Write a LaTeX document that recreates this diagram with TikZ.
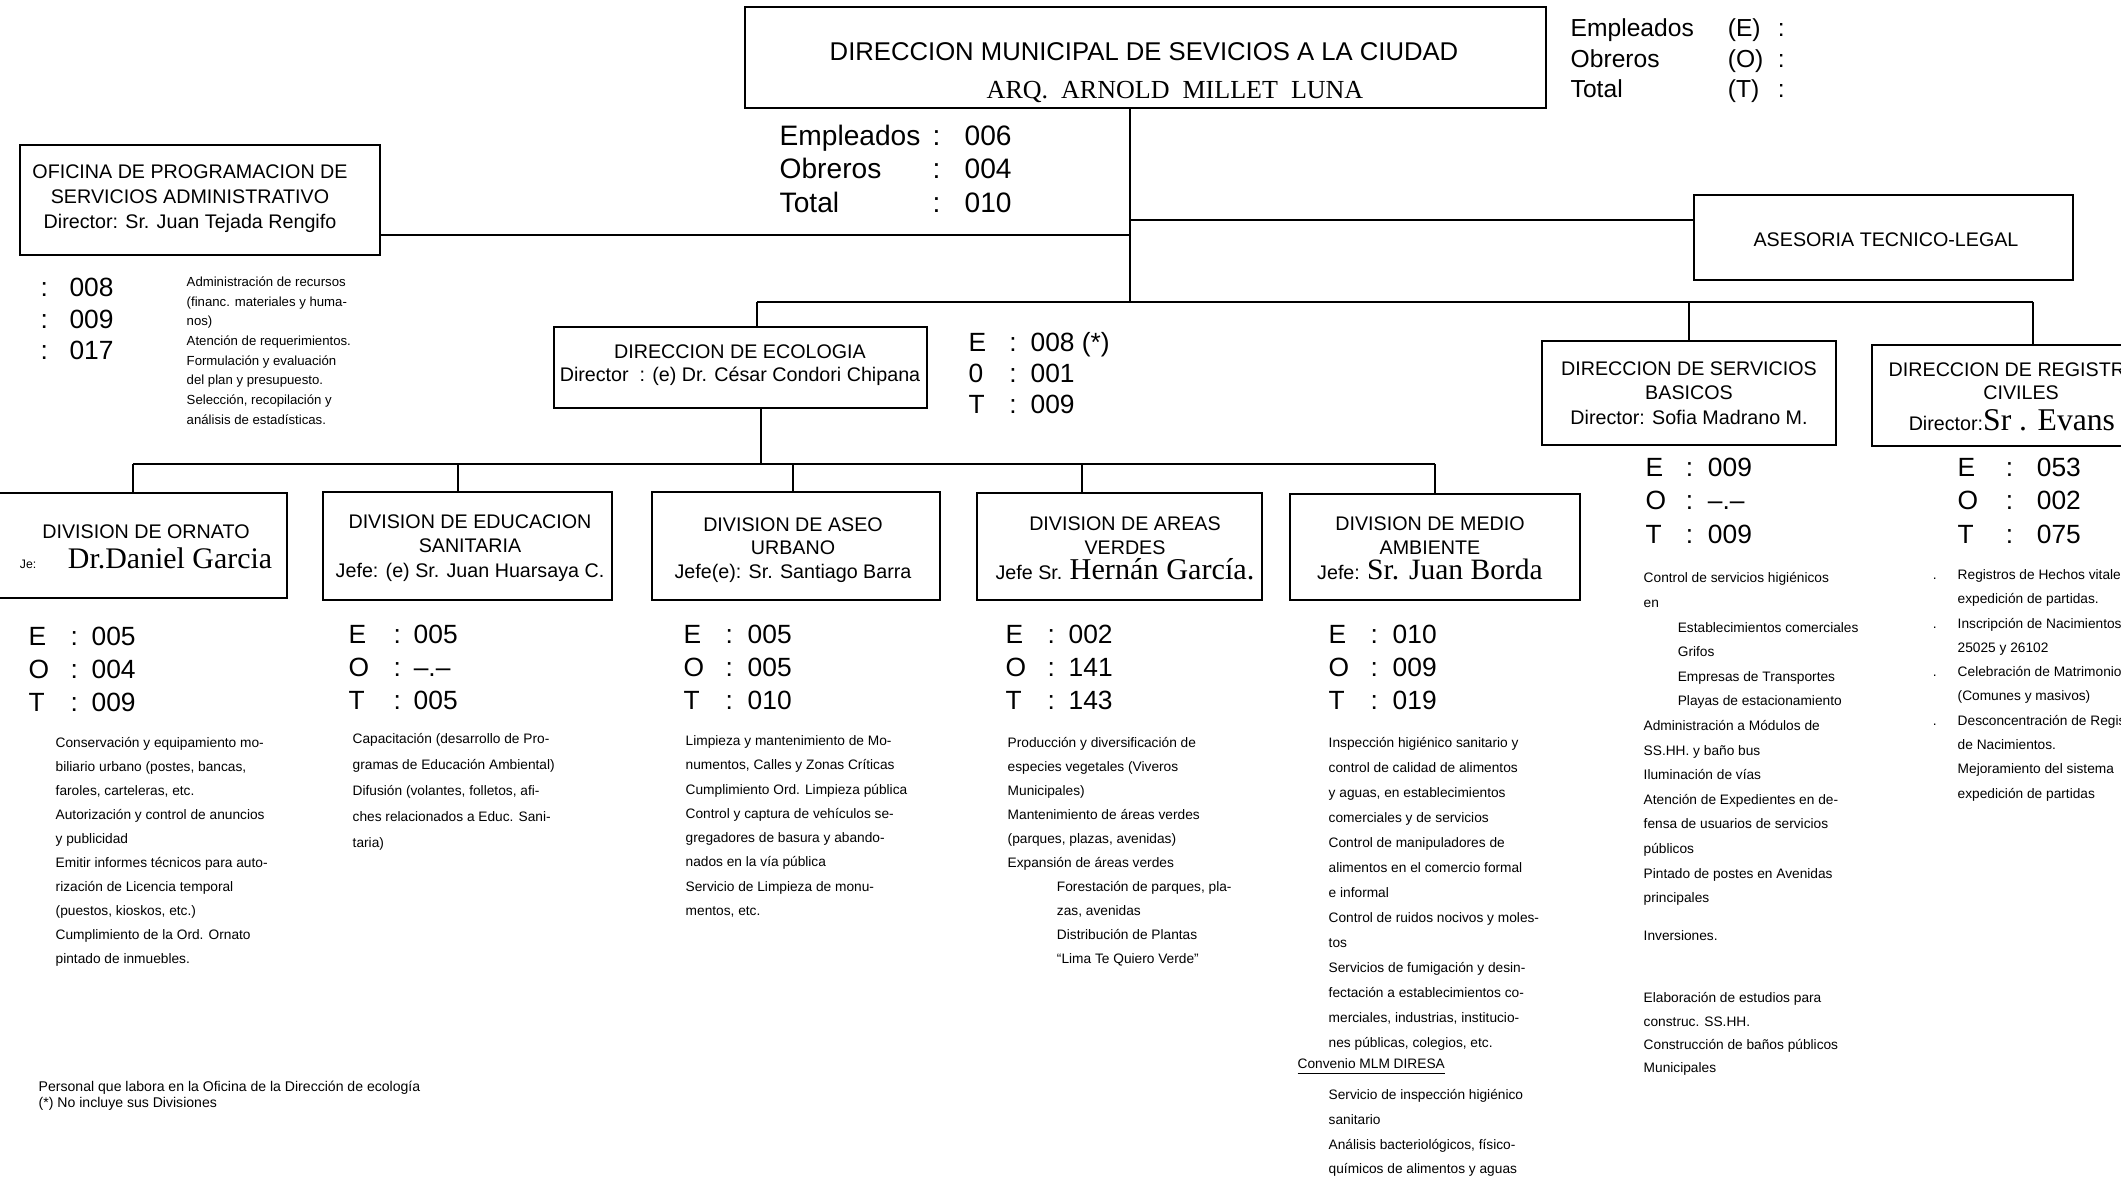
\documentclass[tikz,border=0pt]{standalone}
\usepackage{fontspec}
\setmainfont{Liberation Sans}
\newfontfamily\serifnm{Liberation Serif}
\usetikzlibrary{fit}
\newcommand{\eotbl}[5]{\begin{tabular}{@{}p{#1}@{}p{#2}@{}l@{}}E&:&#3\\O&:&#4\\T&:&#5\end{tabular}}
\newcommand{\bul}{\llap{.\hspace{6pt}}}
\begin{document}
\begin{tikzpicture}[x=0.01cm,y=-0.01cm,
  boxst/.style={draw, line width=0.6pt, inner sep=0pt},
  lnk/.style={line width=0.6pt},
  ttl/.style={font=\fontsize{5.6}{7}\selectfont, align=center, inner sep=0pt},
  stat/.style={font=\fontsize{7.5}{9.4}\selectfont, anchor=west, inner sep=0pt},
  desc/.style={font=\fontsize{3.9}{6.8}\selectfont, align=left, anchor=north west, inner sep=0pt}]
\useasboundingbox (0,0) rectangle (2121,1177);
\fill[white] (0,0) rectangle (2121,1177);
\clip (0,0) rectangle (2121,1177);

% ---------- boxes ----------
\node[boxst, fit={(745,7) (1546,108)}] (main) {};
\node[boxst, fit={(20,145) (380,255)}] (ofi) {};
\node[boxst, fit={(1694,195) (2073,280)}] (ases) {};
\node[boxst, fit={(554,327) (927,408)}] (eco) {};
\node[boxst, fit={(1542,341) (1836,445)}] (sb) {};
\node[boxst, fit={(1872,345) (2160,446)}] (reg) {};
\node[boxst, fit={(-10,493) (287,598)}] (orn) {};
\node[boxst, fit={(323,492) (612,600)}] (edu) {};
\node[boxst, fit={(652,492) (940,600)}] (ase) {};
\node[boxst, fit={(977,493) (1262,600)}] (are) {};
\node[boxst, fit={(1290,494) (1580,600)}] (med) {};

% ---------- connectors ----------
\coordinate (jL) at (1130,235);
\coordinate (jR) at (1130,220);
\coordinate (jB) at (1130,302);
\draw[lnk] (main.south -| jB) -- (jB);
\draw[lnk] (ofi.east |- jL) -- (jL);
\draw[lnk] (jR) -- (ases.west |- jR);
\coordinate (ubE) at (757,302);
\coordinate (ubR) at (2033,302);
\draw[lnk] (ubE) -- (ubR);
\draw[lnk] (ubE) -- (ubE |- eco.north);
\draw[lnk] (sb.north |- ubE) -- (sb.north);
\draw[lnk] (ubR) -- (ubR |- reg.north);
\coordinate (lb1) at (133,464);
\coordinate (lb2) at (458,464);
\coordinate (lbE) at (761,464);
\coordinate (lb3) at (793,464);
\coordinate (lb4) at (1082,464);
\coordinate (lb5) at (1435,464);
\draw[lnk] (lb1) -- (lb5);
\draw[lnk] (lbE |- eco.south) -- (lbE);
\draw[lnk] (lb1) -- (lb1 |- orn.north);
\draw[lnk] (lb2) -- (lb2 |- edu.north);
\draw[lnk] (lb3) -- (lb3 |- ase.north);
\draw[lnk] (lb4) -- (lb4 |- are.north);
\draw[lnk] (lb5) -- (lb5 |- med.north);

% ---------- main ----------
\node[inner sep=0pt, font=\fontsize{7.3}{8}\selectfont] (mainT) at (1144,52) {DIRECCION MUNICIPAL DE SEVICIOS A LA CIUDAD};
\node[inner sep=0pt, font=\serifnm\fontsize{7.4}{8}\selectfont] (mainN) at (1175,92) {ARQ.~~ARNOLD~~MILLET~~LUNA};
\node[stat, font=\fontsize{8}{9.5}\selectfont] (mainS) at (779,172) {\begin{tabular}{@{}p{43.5pt}@{}p{9.1pt}@{}l@{}}Empleados&:&006\\Obreros&:&004\\Total&:&010\end{tabular}};
\node[stat, font=\fontsize{7}{8.7}\selectfont] (leg) at (1570,61) {\begin{tabular}{@{}p{44.7pt}@{}p{14.2pt}@{}l@{}}Empleados&(E)&:\\Obreros&(O)&:\\Total&(T)&:\end{tabular}};

% ---------- oficina ----------
\node[ttl, font=\fontsize{5.6}{7.1}\selectfont] (ofiT) at (190,199) {OFICINA DE PROGRAMACION DE\\SERVICIOS ADMINISTRATIVO\\Director: Sr. Juan Tejada Rengifo};
\node[stat, font=\fontsize{7.5}{9}\selectfont] (ofiS) at (40,322) {\begin{tabular}{@{}p{8.2pt}@{}l@{}}:&008\\:&009\\:&017\end{tabular}};
\node[desc, font=\fontsize{3.75}{5.6}\selectfont] (ofiD) at (186,276) {Administración de recursos\\(financ. materiales y huma-\\nos)\\Atención de requerimientos.\\Formulación y evaluación\\del plan y presupuesto.\\Selección, recopilación y\\análisis de estadísticas.};

% ---------- asesoria ----------
\node[ttl] (asesT) at (1886,240) {ASESORIA TECNICO-LEGAL};

% ---------- ecologia ----------
\node[ttl, font=\fontsize{5.6}{6.4}\selectfont] (ecoT) at (740,365) {DIRECCION DE ECOLOGIA\\Director\ \ : (e) Dr. César Condori Chipana};
\node[stat, font=\fontsize{7.5}{8.8}\selectfont] (ecoS) at (968,376) {\begin{tabular}{@{}p{11.6pt}@{}p{6.0pt}@{}l@{}}E&:&008 (*)\\0&:&001\\T&:&009\end{tabular}};

% ---------- servicios basicos ----------
\node[ttl] (sbT) at (1689,393) {DIRECCION DE SERVICIOS\\BASICOS\\Director: Sofia Madrano M.};
\node[stat, font=\fontsize{7.5}{9.5}\selectfont] (sbS) at (1645,503) {\eotbl{11.4pt}{6.3pt}{009}{--.--}{009}};
\node[desc, font=\fontsize{3.9}{7}\selectfont] (sbD1) at (1643,572) {Control de servicios higiénicos\\en\\\hspace*{9.7pt}Establecimientos comerciales\\\hspace*{9.7pt}Grifos\\\hspace*{9.7pt}Empresas de Transportes\\\hspace*{9.7pt}Playas de estacionamiento\\Administración a Módulos de\\SS.HH. y baño bus\\Iluminación de vías\\Atención de Expedientes en de-\\fensa de usuarios de servicios\\públicos\\Pintado de postes en Avenidas\\principales};
\node[desc, anchor=west, font=\fontsize{3.9}{7}\selectfont] (sbD2) at (1643,936) {Inversiones.};
\node[desc, font=\fontsize{3.9}{6.6}\selectfont] (sbD3) at (1643,992) {Elaboración de estudios para\\construc. SS.HH.\\Construcción de baños públicos\\Municipales};

% ---------- registros ----------
\node[ttl, anchor=west, font=\fontsize{5.6}{6.8}\selectfont] (regT) at (1888,400) {DIRECCION DE REGISTROS\\CIVILES\\[2pt]Director:{\serifnm\fontsize{9}{7}\selectfont Sr . Evans (}};
\node[stat, font=\fontsize{7.5}{9.5}\selectfont] (regS) at (1957,503) {\eotbl{13.7pt}{8.8pt}{053}{002}{075}};
\node[desc, font=\fontsize{3.9}{6.9}\selectfont] (regD) at (1957,569) {\bul Registros de Hechos vitales\\expedición de partidas.\\\bul Inscripción de Nacimientos\\25025 y 26102\\\bul Celebración de Matrimonios\\(Comunes y masivos)\\\bul Desconcentración de Registros\\de Nacimientos.\\Mejoramiento del sistema\\expedición de partidas};

% ---------- ornato ----------
\node[ttl, font=\fontsize{5.6}{8.5}\selectfont] (ornT) at (146,547) {DIVISION DE ORNATO\\{\fontsize{3.5}{4}\selectfont Je:}\hspace{9pt}{\serifnm\fontsize{8.5}{8}\selectfont Dr.Daniel Garcia}};
\node[stat] (ornS) at (28,672) {\eotbl{11.9pt}{6pt}{005}{004}{009}};
\node[desc] (ornD) at (55,737) {Conservación y equipamiento mo-\\biliario urbano (postes, bancas,\\faroles, carteleras, etc.\\Autorización y control de anuncios\\y publicidad\\Emitir informes técnicos para auto-\\rización de Licencia temporal\\(puestos, kioskos, etc.)\\Cumplimiento de la Ord. Ornato\\pintado de inmuebles.};

% ---------- educacion ----------
\node[ttl] (eduT) at (470,548) {DIVISION DE EDUCACION\\SANITARIA\\Jefe: (e) Sr. Juan Huarsaya C.};
\node[stat] (eduS) at (348,670) {\eotbl{12.8pt}{5.7pt}{005}{--.--}{005}};
\node[desc, font=\fontsize{3.9}{7.4}\selectfont] (eduD) at (352,733) {Capacitación (desarrollo de Pro-\\gramas de Educación Ambiental)\\Difusión (volantes, folletos, afi-\\ches relacionados a Educ. Sani-\\taria)};

% ---------- aseo ----------
\node[ttl, font=\fontsize{5.6}{6.6}\selectfont] (aseT) at (793,550) {DIVISION DE ASEO\\URBANO\\Jefe(e): Sr. Santiago Barra};
\node[stat] (aseS) at (683,670) {\eotbl{11.9pt}{6.3pt}{005}{005}{010}};
\node[desc, font=\fontsize{3.9}{6.9}\selectfont] (aseD) at (685,735) {Limpieza y mantenimiento de Mo-\\numentos, Calles y Zonas Críticas\\Cumplimiento Ord. Limpieza pública\\Control y captura de vehículos se-\\gregadores de basura y abando-\\nados en la vía pública\\Servicio de Limpieza de monu-\\mentos, etc.};

% ---------- areas verdes ----------
\node[ttl] (areT) at (1125,548) {DIVISION DE AREAS\\VERDES\\Jefe Sr. {\serifnm\fontsize{8.6}{8}\selectfont Hernán García.}};
\node[stat] (areS) at (1005,670) {\eotbl{11.9pt}{6pt}{002}{141}{143}};
\node[desc] (areD) at (1007,737) {Producción y diversificación de\\especies vegetales (Viveros\\Municipales)\\Mantenimiento de áreas verdes\\(parques, plazas, avenidas)\\Expansión de áreas verdes\\\hspace*{14pt}Forestación de parques, pla-\\\hspace*{14pt}zas, avenidas\\\hspace*{14pt}Distribución de Plantas\\\hspace*{14pt}``Lima Te Quiero Verde''};

% ---------- medio ambiente ----------
\node[ttl] (medT) at (1430,548) {DIVISION DE MEDIO\\AMBIENTE\\Jefe: {\serifnm\fontsize{8.4}{8}\selectfont Sr. Juan Borda}};
\node[stat] (medS) at (1328,670) {\eotbl{11.9pt}{6.3pt}{010}{009}{019}};
\node[desc, font=\fontsize{3.9}{7.1}\selectfont] (medD1) at (1328,737) {Inspección higiénico sanitario y\\control de calidad de alimentos\\y aguas, en establecimientos\\comerciales y de servicios\\Control de manipuladores de\\alimentos en el comercio formal\\e informal\\Control de ruidos nocivos y moles-\\tos\\Servicios de fumigación y desin-\\fectación a establecimientos co-\\merciales, industrias, institucio-\\nes públicas, colegios, etc.};
\node[desc, anchor=west] (medD2) at (1297,1067) {\underline{Convenio MLM DIRESA}};
\node[desc, font=\fontsize{3.9}{7}\selectfont] (medD3) at (1328,1089) {Servicio de inspección higiénico\\sanitario\\Análisis bacteriológicos, físico-\\químicos de alimentos y aguas};

% ---------- footnote ----------
\node[desc, anchor=west, font=\fontsize{4}{4.6}\selectfont] (foot) at (38,1096) {Personal que labora en la Oficina de la Dirección de ecología\\(*) No incluye sus Divisiones};
\end{tikzpicture}
\end{document}
